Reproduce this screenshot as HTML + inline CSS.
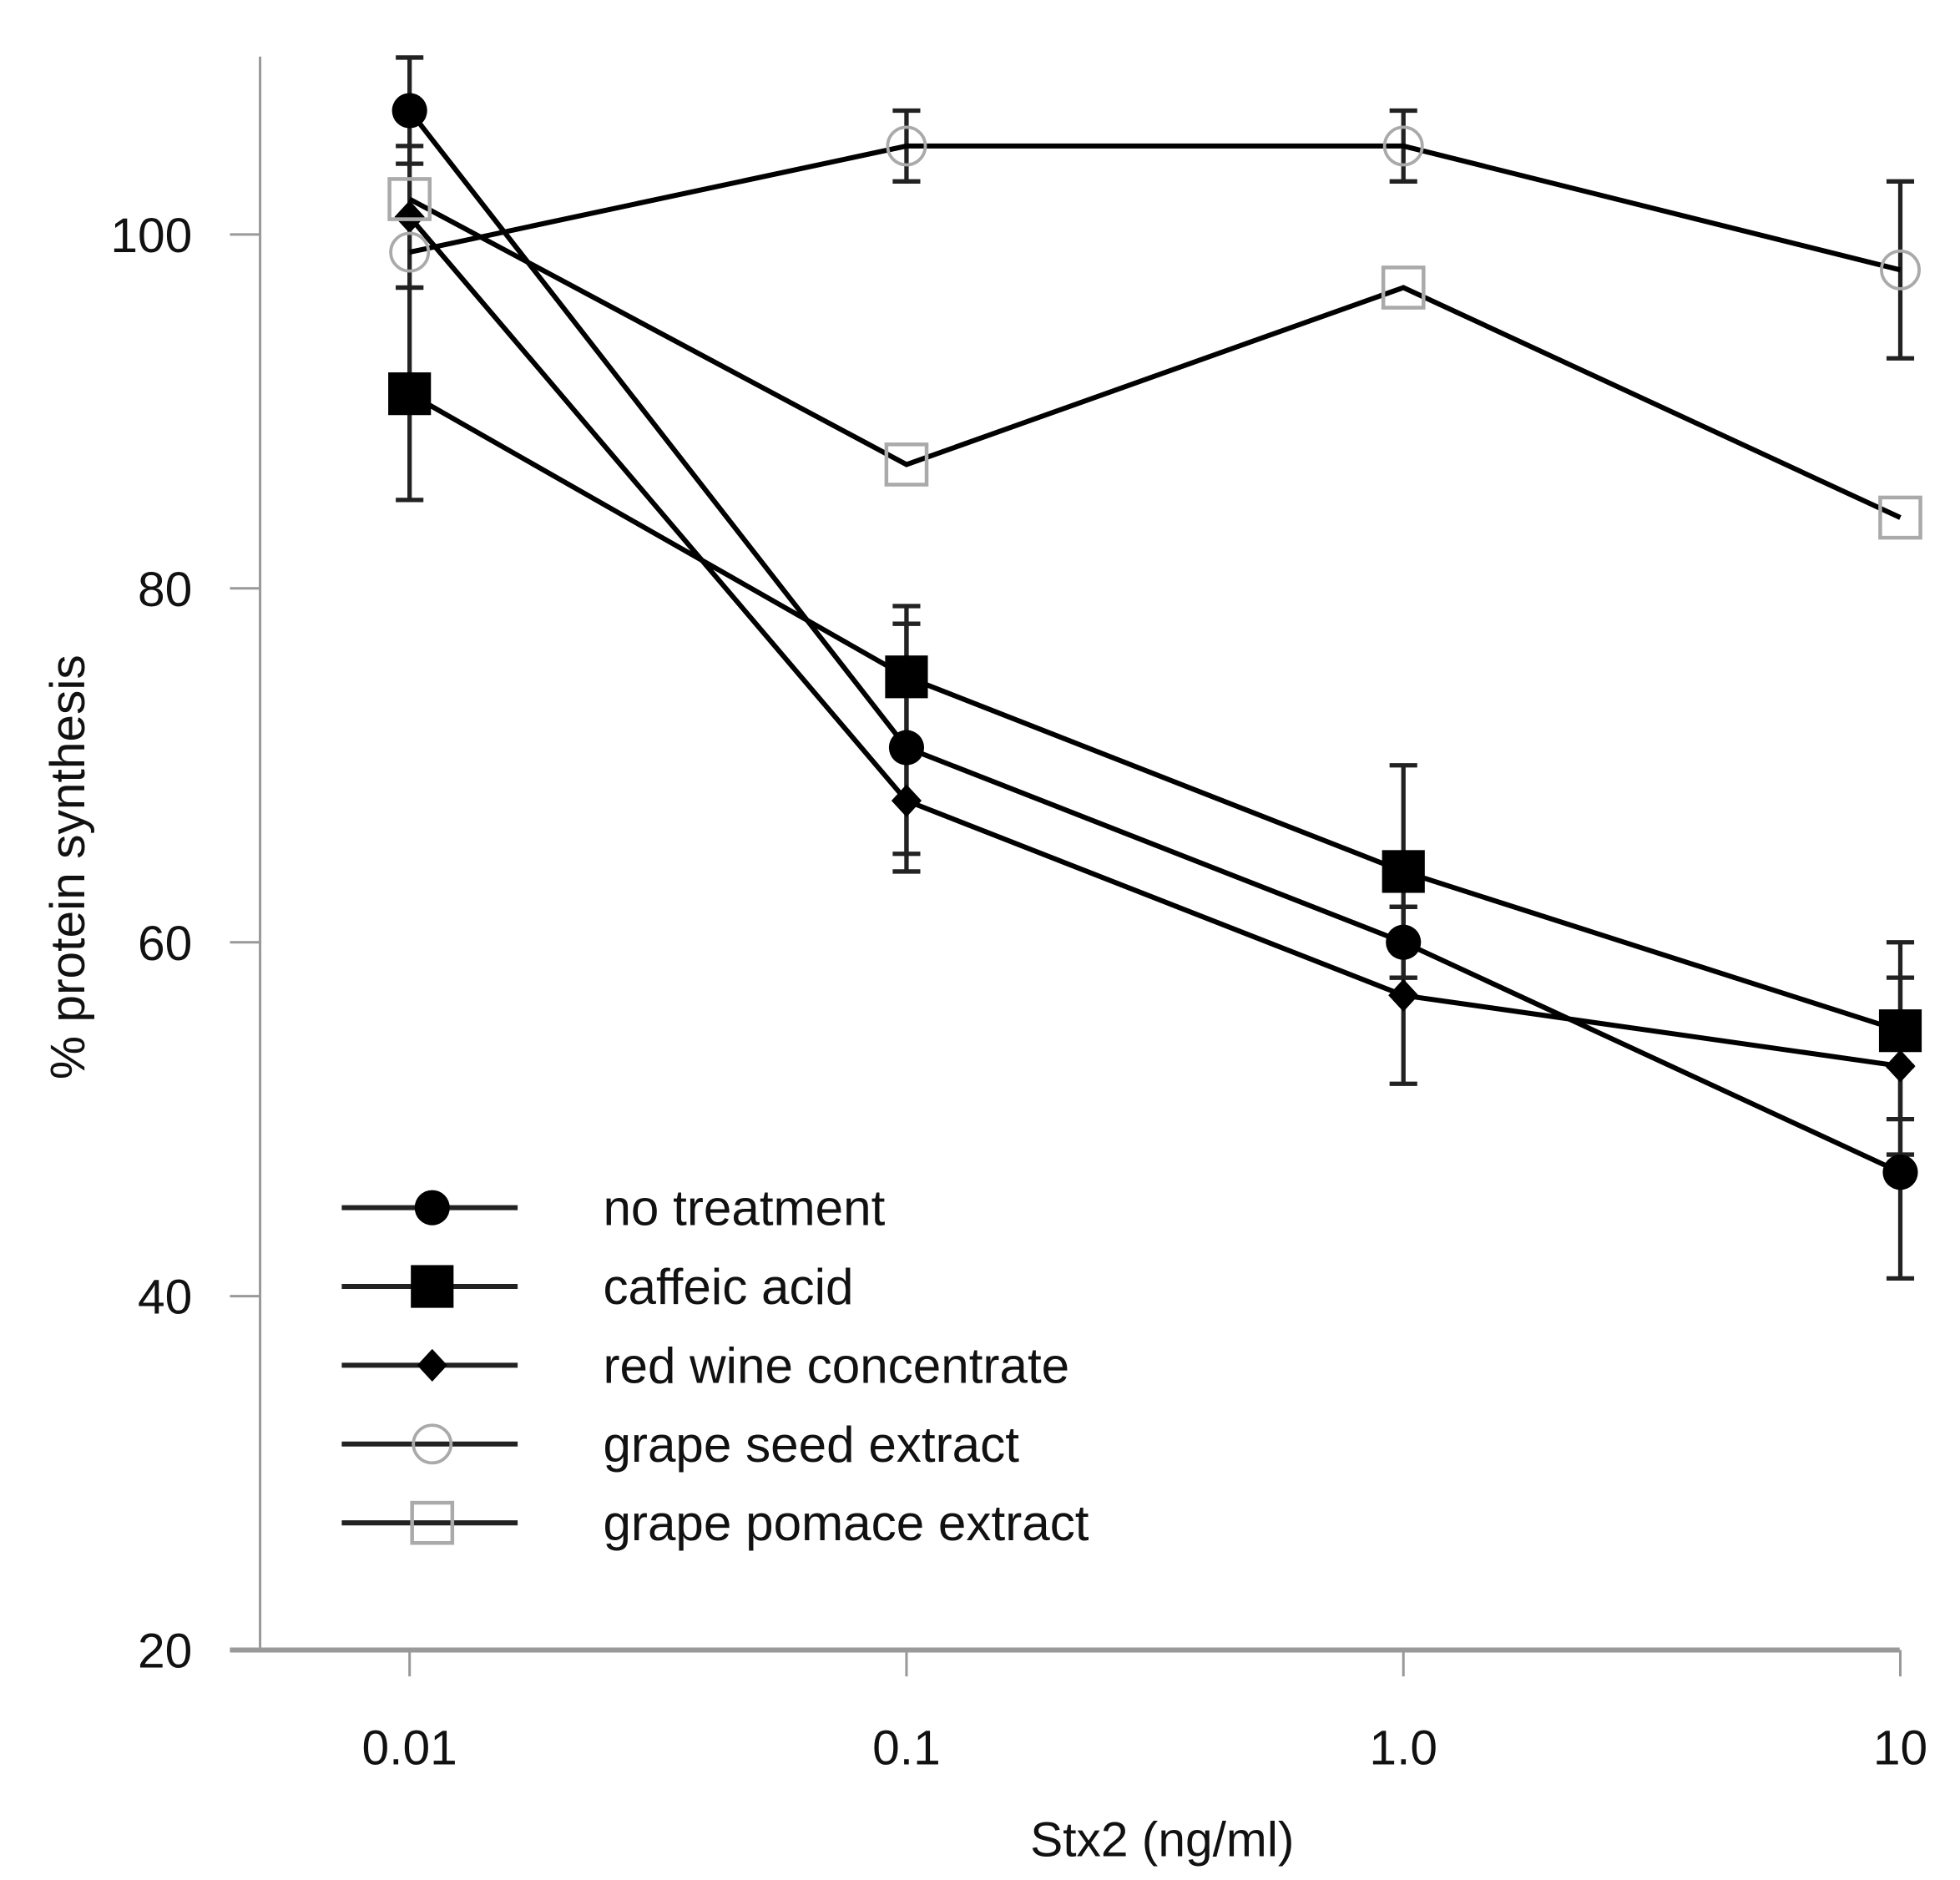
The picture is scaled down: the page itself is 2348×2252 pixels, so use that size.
<!DOCTYPE html>
<html><head><meta charset="utf-8"><style>
html,body{margin:0;padding:0;background:#fff;}
svg{display:block;}
text{font-family:"Liberation Sans",Arial,sans-serif;fill:#111;}
</style></head><body>
<svg id="chart" width="2348" height="2252" viewBox="0 0 1560 1496" preserveAspectRatio="none" xmlns="http://www.w3.org/2000/svg">
<g id="axes"></g>
<g id="series"></g>
<g id="legend"></g>
</svg>
<script>
const xCats = ["0.01","0.1","1.0","10"];
const yTicks = [20,40,60,80,100];
const seriesNames = ["no treatment","caffeic acid","red wine concentrate","grape seed extract","grape pomace extract"];
const noTreatment = [107,71,60,47];
const noTreatmentErr = [3,7,2,6];
const caffeic = [91,75,64,55];
const caffeicErr = [6,4,6,5];
const redWine = [101,68,57,53];
const redWineErr = [4,3,5,5];
const grapeSeed = [99,105,105,98];
const grapeSeedErr = [0,2,2,5];
const grapePomace = [102,87,97,84];
const grapePomaceErr = [0,0,0,0];

const NS="http://www.w3.org/2000/svg";
function xPos(i){return 326+i*395.5;}
function yPos(v){return 1313-(v-20)*14.08;}
function mk(tag,attrs,parent){const e=document.createElementNS(NS,tag);for(const k in attrs)e.setAttribute(k,attrs[k]);parent.appendChild(e);return e;}
const axes=document.getElementById('axes'),ser=document.getElementById('series'),leg=document.getElementById('legend');

let l=mk('line',{x1:207,y1:45,x2:207,y2:1313,stroke:'#999','stroke-width':2},axes);


l=mk('line',{x1:183,y1:1313,x2:1512,y2:1313,stroke:'#999','stroke-width':4},axes);


yTicks.forEach(v=>{
  const t=mk('line',{x1:183,y1:yPos(v),x2:207,y2:yPos(v),stroke:'#999','stroke-width':2},axes);
  
  
  const tx=mk('text',{x:153,y:yPos(v)+14,'text-anchor':'end','font-size':39},axes);
  tx.textContent=v;
  
  
});
xCats.forEach((c,i)=>{
  const t=mk('line',{x1:xPos(i),y1:1313,x2:xPos(i),y2:1334,stroke:'#999','stroke-width':2},axes);
  
  
  const tx=mk('text',{x:xPos(i),y:1404,'text-anchor':'middle','font-size':39},axes);
  tx.textContent=c;
  
  
});
let tt=mk('text',{x:925,y:1477,'text-anchor':'middle','font-size':39},axes);
tt.textContent='Stx2 (ng/ml)';


tt=mk('text',{x:0,y:0,'text-anchor':'middle','font-size':39,transform:'translate(67,690) rotate(-90)'},axes);
tt.textContent='% protein synthesis';



function marker(type,x,y,parent){
  let e;
  if(type==='circle') e=mk('circle',{cx:x,cy:y,r:14,fill:'#000'},parent);
  else if(type==='square') e=mk('rect',{x:x-17,y:y-17,width:34,height:34,fill:'#000'},parent);
  else if(type==='diamond') e=mk('polygon',{points:`${x},${y-13} ${x+12},${y} ${x},${y+13} ${x-12},${y}`,fill:'#000'},parent);
  else if(type==='ocircle') e=mk('circle',{cx:x,cy:y,r:15,fill:'none',stroke:'#aaa','stroke-width':2.5},parent);
  else e=mk('rect',{x:x-16,y:y-16,width:32,height:32,fill:'none',stroke:'#aaa','stroke-width':3},parent);
  return e;
}
const allSeries=[
 {name:'no-treatment',vals:noTreatment,err:noTreatmentErr,m:'circle'},
 {name:'caffeic-acid',vals:caffeic,err:caffeicErr,m:'square'},
 {name:'red-wine-concentrate',vals:redWine,err:redWineErr,m:'diamond'},
 {name:'grape-seed-extract',vals:grapeSeed,err:grapeSeedErr,m:'ocircle'},
 {name:'grape-pomace-extract',vals:grapePomace,err:grapePomaceErr,m:'osquare'}
];
allSeries.forEach(s=>{
  s.vals.forEach((v,i)=>{
    if(!s.err[i])return;
    const x=xPos(i),y1=yPos(v+s.err[i]),y2=yPos(v-s.err[i]);
    const g=mk('g',{stroke:'#222','stroke-width':3.5},ser);
    
    
    mk('line',{x1:x,y1:y1,x2:x,y2:y2},g);
    mk('line',{x1:x-11,y1:y1,x2:x+11,y2:y1},g);
    mk('line',{x1:x-11,y1:y2,x2:x+11,y2:y2},g);
  });
});
allSeries.forEach(s=>{
  const g=mk('g',{},ser);
  
  
  const pts=s.vals.map((v,i)=>xPos(i)+','+yPos(v)).join(' ');
  const pl=mk('polyline',{points:pts,fill:'none',stroke:'#000','stroke-width':4},g);
  
  
  s.vals.forEach((v,i)=>{
    const p=marker(s.m,xPos(i),yPos(v),g);
    
    
  });
});
allSeries.forEach((s,k)=>{
  const y=961+k*62.7;
  const g=mk('g',{},leg);
  
  
  mk('line',{x1:272,y1:y,x2:412,y2:y,stroke:'#222','stroke-width':4},g);
  marker(s.m,344,y,g);
  const tx=mk('text',{x:480,y:y+14,'font-size':40},g);
  tx.textContent=seriesNames[k];
  
  
});
</script>
</body></html>
